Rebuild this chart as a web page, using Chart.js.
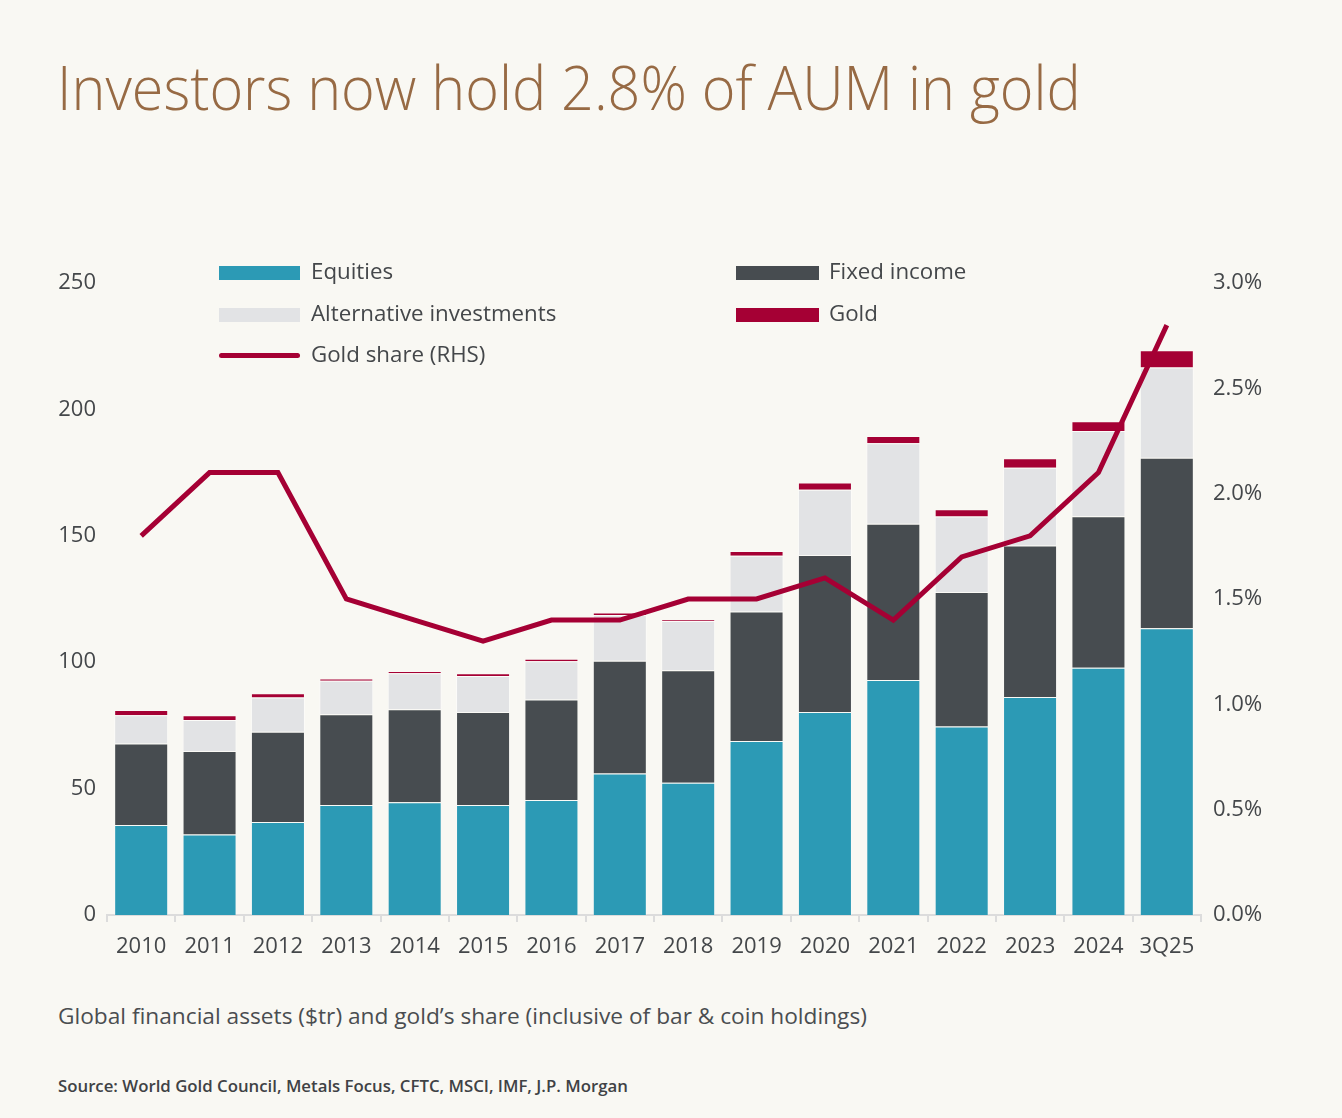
<!DOCTYPE html>
<html>
<head>
<meta charset="utf-8">
<script src="https://cdn.jsdelivr.net/npm/chart.js@4.4.1/dist/chart.umd.min.js"></script>
<style>
  html, body { margin: 0; padding: 0; background: #F9F8F3; }
  body { width: 1342px; height: 1118px; position: relative; overflow: hidden; font-family: "Open Sans", sans-serif; }
  #title { position: absolute; left: 57px; top: 57px; font-size: 60px; line-height: 1; font-weight: 300; color: #976A44; white-space: nowrap; transform-origin: left top; transform: scaleX(0.958); }
  #subtitle { position: absolute; left: 58px; top: 1005px; font-size: 22.7px; line-height: 1; font-weight: 400; color: #4a4d50; white-space: nowrap; }
  #source { position: absolute; left: 58px; top: 1078px; font-size: 16.8px; line-height: 1; font-weight: 600; color: #3f4245; white-space: nowrap; }
  #chart { position: absolute; left: 0; top: 240px; }
  .sw { position: absolute; }
  .lt { position: absolute; font-size: 22.3px; line-height: 1; color: #44474a; white-space: nowrap; }
</style>
</head>
<body>
<div id="title">Investors now hold 2.8% of AUM in gold</div>
<canvas id="chart" width="1342" height="740" style="width:1342px;height:740px"></canvas>
<div id="legend"></div>
<div id="subtitle">Global financial assets ($tr) and gold’s share (inclusive of bar &amp; coin holdings)</div>
<div id="source">Source: World Gold Council, Metals Focus, CFTC, MSCI, IMF, J.P. Morgan</div>
<script>
const categories = ["2010","2011","2012","2013","2014","2015","2016","2017","2018","2019","2020","2021","2022","2023","2024","3Q25"];
const equities    = [35.6, 31.8, 36.8, 43.5, 44.6, 43.5, 45.5, 56.0, 52.3, 68.8, 80.3, 93.0, 74.6, 86.2, 97.8, 113.4];
const fixedIncome = [32.2, 33.1, 35.7, 35.9, 36.8, 36.8, 39.7, 44.6, 44.5, 51.3, 62.1, 61.8, 53.2, 60.0, 59.9, 67.5];
const alternatives= [11.2, 12.2, 13.5, 13.3, 14.2, 14.2, 15.2, 18.1, 19.5, 22.0, 25.8, 31.8, 29.8, 30.7, 33.8, 35.7];
const gold        = [2.1, 1.9, 1.7, 0.9, 0.9, 1.1, 1.0, 1.0, 0.5, 1.9, 2.9, 2.9, 2.9, 3.8, 3.8, 6.8];
const goldShare   = [1.8, 2.1, 2.1, 1.5, 1.4, 1.3, 1.4, 1.4, 1.5, 1.5, 1.6, 1.4, 1.7, 1.8, 2.1, 2.8];
const leftTicks = [0, 50, 100, 150, 200, 250];
const rightTicks = [0, 0.5, 1.0, 1.5, 2.0, 2.5, 3.0];

const COL = { eq: "#2C9AB5", fi: "#474C50", alt: "#E2E3E5", gold: "#A50034", text: "#44474a" };

// HTML legend
const legendItems = [
  { label: "Equities", color: COL.eq, x: 219, tx: 311, y: 266, h: 14, w: 81 },
  { label: "Fixed income", color: COL.fi, x: 736, tx: 829, y: 266, h: 14, w: 83 },
  { label: "Alternative investments", color: COL.alt, x: 219, tx: 311, y: 308, h: 14, w: 81 },
  { label: "Gold", color: COL.gold, x: 736, tx: 829, y: 308, h: 14, w: 83 },
  { label: "Gold share (RHS)", color: COL.gold, x: 219, tx: 311, y: 353, h: 5, w: 81, line: true }
];
const lg = document.getElementById("legend");
legendItems.forEach(it => {
  const s = document.createElement("div");
  s.className = "sw";
  s.style.left = it.x + "px"; s.style.top = it.y + "px";
  s.style.width = it.w + "px"; s.style.height = it.h + "px";
  s.style.background = it.color;
  if (it.line) s.style.borderRadius = "3px";
  lg.appendChild(s);
  const t = document.createElement("div");
  t.className = "lt";
  t.textContent = it.label;
  t.style.left = it.tx + "px";
  t.style.top = (it.y + it.h / 2 - 13) + "px";
  lg.appendChild(t);
});

const barCommon = { stack: "s", barPercentage: 0.79, categoryPercentage: 1.0, borderWidth: 1, borderSkipped: "start", order: 1, yAxisID: "y" };

new Chart(document.getElementById("chart"), {
  type: "bar",
  data: {
    labels: categories,
    datasets: [
      Object.assign({ label: "Equities", data: equities, backgroundColor: COL.eq, borderColor: "rgba(255,255,255,0.25)" }, barCommon),
      Object.assign({ label: "Fixed income", data: fixedIncome, backgroundColor: COL.fi, borderColor: "rgba(255,255,255,0.2)" }, barCommon),
      Object.assign({ label: "Alternative investments", data: alternatives, backgroundColor: COL.alt, borderColor: "rgba(255,255,255,0.5)" }, barCommon),
      Object.assign({ label: "Gold", data: gold, backgroundColor: COL.gold, borderColor: "rgba(255,255,255,0.25)" }, barCommon),
      { type: "line", label: "Gold share (RHS)", data: goldShare, yAxisID: "y1", borderColor: COL.gold, borderWidth: 5, pointRadius: 0, tension: 0, fill: false, order: 0, borderJoinStyle: "miter" }
    ]
  },
  options: {
    responsive: false,
    animation: false,
    layout: { padding: { top: 43, left: 0, right: 0, bottom: 0 } },
    plugins: { legend: { display: false }, tooltip: { enabled: false } },
    scales: {
      x: {
        stacked: true,
        grid: { display: true, drawOnChartArea: false, drawTicks: true, tickLength: 7, color: "#dcdcdc", offset: true, lineWidth: 2 },
        border: { display: true, color: "#dcdcdc", width: 2 },
        ticks: { color: COL.text, font: { family: "Open Sans", size: 22 }, padding: 12, maxRotation: 0, autoSkip: false },
        afterFit: s => { s.height = 65; }
      },
      y: {
        stacked: true, min: 0, max: 250, position: "left",
        grid: { display: false }, border: { display: false },
        afterBuildTicks: s => { s.ticks = leftTicks.map(v => ({ value: v })); },
        ticks: { color: COL.text, font: { family: "Open Sans", size: 22 }, padding: 3 },
        afterFit: s => { s.width = 107; }
      },
      y1: {
        min: 0, max: 3, position: "right",
        grid: { display: false }, border: { display: false },
        afterBuildTicks: s => { s.ticks = rightTicks.map(v => ({ value: v })); },
        ticks: { color: COL.text, font: { family: "Open Sans", size: 22 }, padding: 4, callback: v => Number(v).toFixed(1) + "%" },
        afterFit: s => { s.width = 141; }
      }
    }
  }
});
</script>
</body>
</html>
